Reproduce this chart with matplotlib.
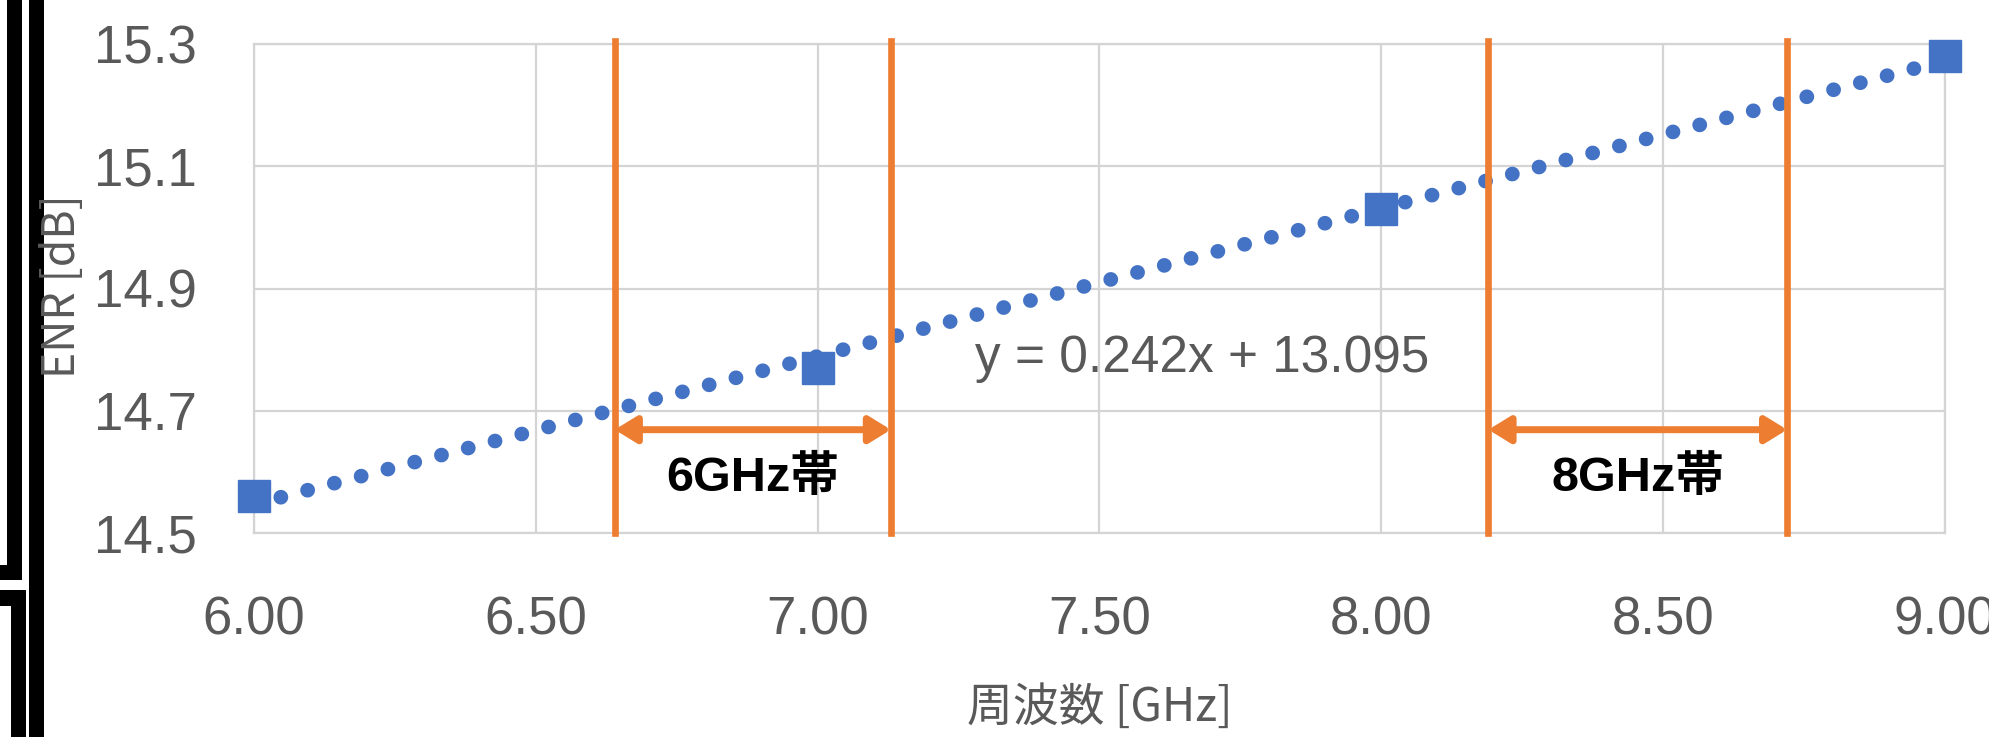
"""ENR vs frequency with linear trendline and 6/8 GHz band markers."""

import numpy as np
import matplotlib
matplotlib.use("Agg")
import matplotlib.pyplot as plt
from matplotlib.patches import Rectangle, FancyArrowPatch


freq_ghz = [6.00, 7.00, 8.00, 9.00]
enr_db = [14.56, 14.77, 15.03, 15.28]

band_6ghz = [6.64, 7.13]
band_8ghz = [8.19, 8.72]
band_labels = ["6GHz帯", "8GHz帯"]

x_ticks = [6.00, 6.50, 7.00, 7.50, 8.00, 8.50, 9.00]
y_ticks = [14.5, 14.7, 14.9, 15.1, 15.3]

BLUE = "#4472C4"
ORANGE = "#ED7D31"
GRAY = "#595959"
GRID = "#D4D4D4"

TICK_FONT = ["Liberation Sans", "Noto Sans CJK JP"]
CJK_FONT = ["Noto Sans CJK JP", "DejaVu Sans"]

W, H = 1990, 737


def main() -> None:
    fig = plt.figure(figsize=(W / 100, H / 100), dpi=100)
    ax = fig.add_axes([254 / W, 1 - 533 / H, (1945 - 254) / W, (533 - 44) / H])

    ax.set_xlim(6.0, 9.0)
    ax.set_ylim(14.5, 15.3)
    ax.set_xticks(x_ticks)
    ax.set_yticks(y_ticks)
    ax.set_xticklabels([f"{v:.2f}" for v in x_ticks])
    ax.set_yticklabels([f"{v:.1f}" for v in y_ticks])
    ax.tick_params(axis="both", length=0, labelsize=38, labelcolor=GRAY)
    ax.tick_params(axis="x", pad=45)
    ax.tick_params(axis="y", pad=41)
    for lbl in ax.get_xticklabels() + ax.get_yticklabels():
        lbl.set_family(TICK_FONT)
    ax.grid(True, color=GRID, lw=1.6)
    for sp in ax.spines.values():
        sp.set_color(GRID)
        sp.set_linewidth(1.6)
    ax.set_axisbelow(True)

    # measured points
    ax.plot(freq_ghz, enr_db, "s", ms=23, color=BLUE, clip_on=False, zorder=3)

    # linear trendline, round dotted like the spreadsheet one
    slope, intercept = np.polyfit(freq_ghz, enr_db, 1)
    xs = np.array([freq_ghz[0], freq_ghz[-1]])
    ax.plot(xs, slope * xs + intercept, lw=10.6, linestyle=(0, (0.01, 1.87)),
            dash_capstyle="round", color=BLUE, clip_on=False, zorder=4)
    ax.text(7.28, 14.785, f"y = {slope:.3f}x + {intercept:.3f}", fontsize=37,
            color=GRAY, family=TICK_FONT, ha="left", va="center", zorder=6)

    # frequency bands
    for band, label in zip([band_6ghz, band_8ghz], band_labels):
        for edge in band:
            ax.axvline(edge, ymin=0, ymax=1.007, color=ORANGE, lw=4.8,
                       clip_on=False, zorder=5)
        arrow = FancyArrowPatch((band[0], 14.669), (band[1], 14.669),
                                arrowstyle="<|-|>,head_length=13,head_width=8",
                                mutation_scale=1, lw=5, color=ORANGE,
                                shrinkA=0, shrinkB=0, zorder=5)
        ax.add_patch(arrow)
        ax.text(sum(band) / 2, 14.59, label, fontsize=35, fontweight="bold",
                color="black", family=TICK_FONT, ha="center", va="center", zorder=6)

    ax.set_xlabel("周波数 [GHz]", fontsize=33, color=GRAY, family=CJK_FONT, labelpad=27)
    fig.text(62 / W, 1 - 286 / H, "ENR [dB]", fontsize=32, color=GRAY,
             family=CJK_FONT, rotation=90, ha="center", va="center")

    # black frame edges of the surrounding slide
    for x0, y0, x1, y1 in [(7, 0, 22, 580), (0, 565, 22, 580), (0, 590, 26, 606),
                           (11, 590, 26, 737), (29, 0, 44, 737)]:
        fig.add_artist(Rectangle((x0 / W, 1 - y1 / H), (x1 - x0) / W, (y1 - y0) / H,
                                 transform=fig.transFigure, color="black", lw=0))

    fig.savefig("out.png", dpi=100)
    plt.close(fig)


if __name__ == "__main__":
    main()
